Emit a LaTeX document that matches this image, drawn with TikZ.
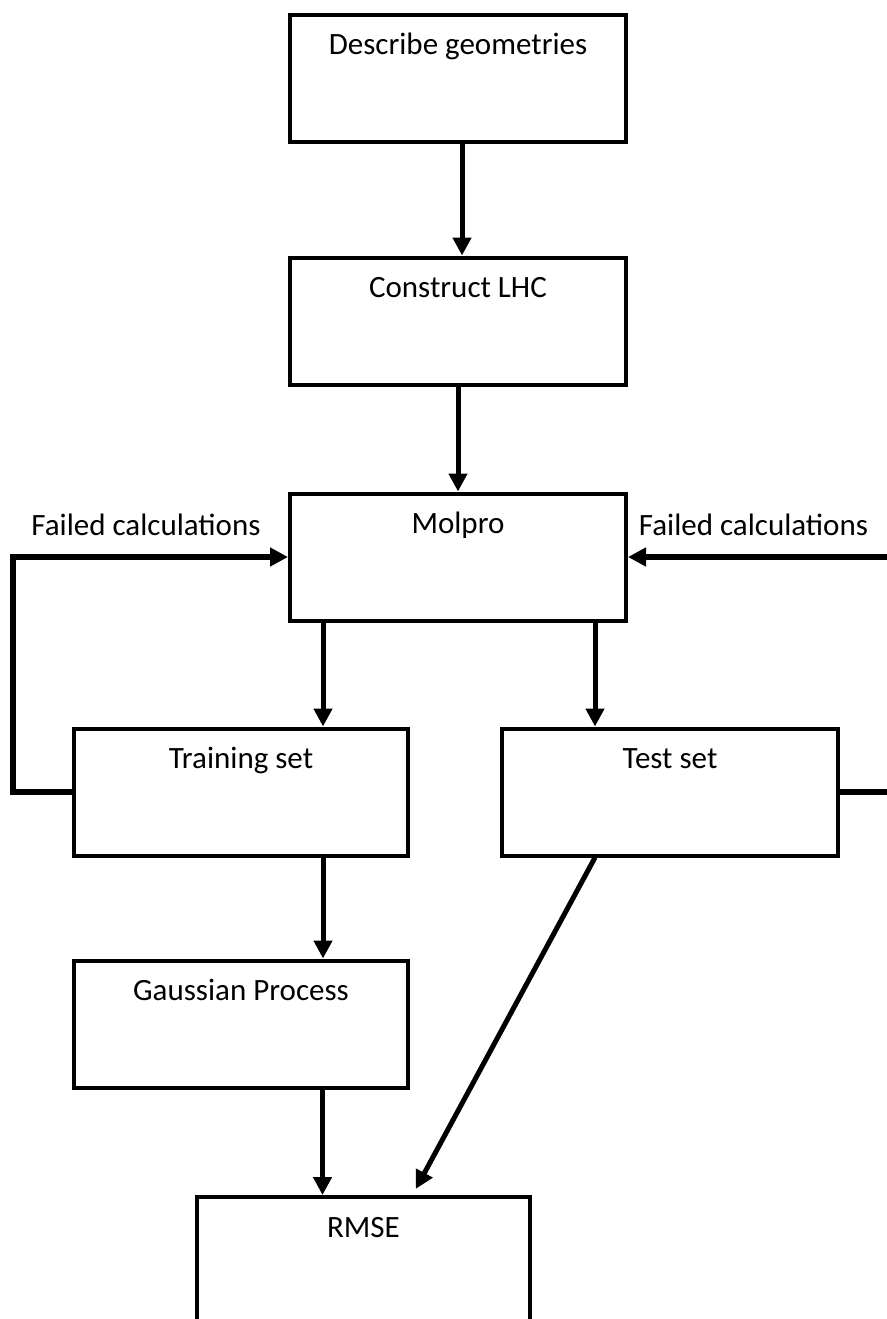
\documentclass[tikz,border=0pt]{standalone}
\usepackage{fontspec}
\setmainfont{Carlito}
\usetikzlibrary{arrows.meta}

\begin{document}
\begin{tikzpicture}[x=1pt, y=-1pt,
                    every node/.style = {font=\fontsize{31}{37}\selectfont},
                    stepbox/.style = {draw, line width=4pt, shape=rectangle,
                    inner sep=0pt, minimum width=336pt,
                    text height=40pt, text depth=87pt},
                    arr/.style = {line width=5pt,
                    -{Triangle[width=18pt,length=18pt]}},
                    back/.style = {arr, line width=6pt}]
  \useasboundingbox (0,0) rectangle (886,1319);
  \node[stepbox] (geo) at (458,78.5) {Describe geometries};
  \node[stepbox] (lhc) at (458,321) {Construct LHC};
  \node[stepbox] (molpro) at (458,557) {Molpro};
  \node[stepbox, minimum width=334pt] (train) at (241,792) {Training set};
  \node[stepbox] (test) at (670,792) {Test set};
  \node[stepbox, minimum width=334pt] (gp) at (241,1024) {Gaussian Process};
  \node[stepbox, minimum width=333pt] (rmse) at (363.5,1260.5) {RMSE};
  \node[anchor=base] (failL) at (146,535) {Failed calculations};
  \node[anchor=base] (failR) at (753.5,535) {Failed calculations};

  \coordinate (tr) at ([xshift=82pt]train.north);
  \coordinate (te) at ([xshift=-75pt]test.north);
  \coordinate (gpin) at ([xshift=82pt]gp.north);
  \coordinate (rin) at ([xshift=-41pt]rmse.north);

  \draw[arr] ([xshift=4pt]geo.south) -- ([xshift=4pt]lhc.north);
  \draw[arr] (lhc) -- (molpro);
  \draw[arr] (molpro.south -| tr) -- (tr);
  \draw[arr] (molpro.south -| te) -- (te);
  \draw[arr] (train.south -| gpin) -- (gpin);
  \draw[arr] (gp.south -| rin) -- (rin);
  \draw[arr, shorten >=7pt] (test.south -| te) -- ([xshift=49pt]rmse.north);
  % failed runs go back to Molpro
  \draw[back] (train.west) -- ++(-59,0) |- (molpro.west);
  \draw[back] (test.east) -- ++(100,0) |- (molpro.east);
\end{tikzpicture}
\end{document}
